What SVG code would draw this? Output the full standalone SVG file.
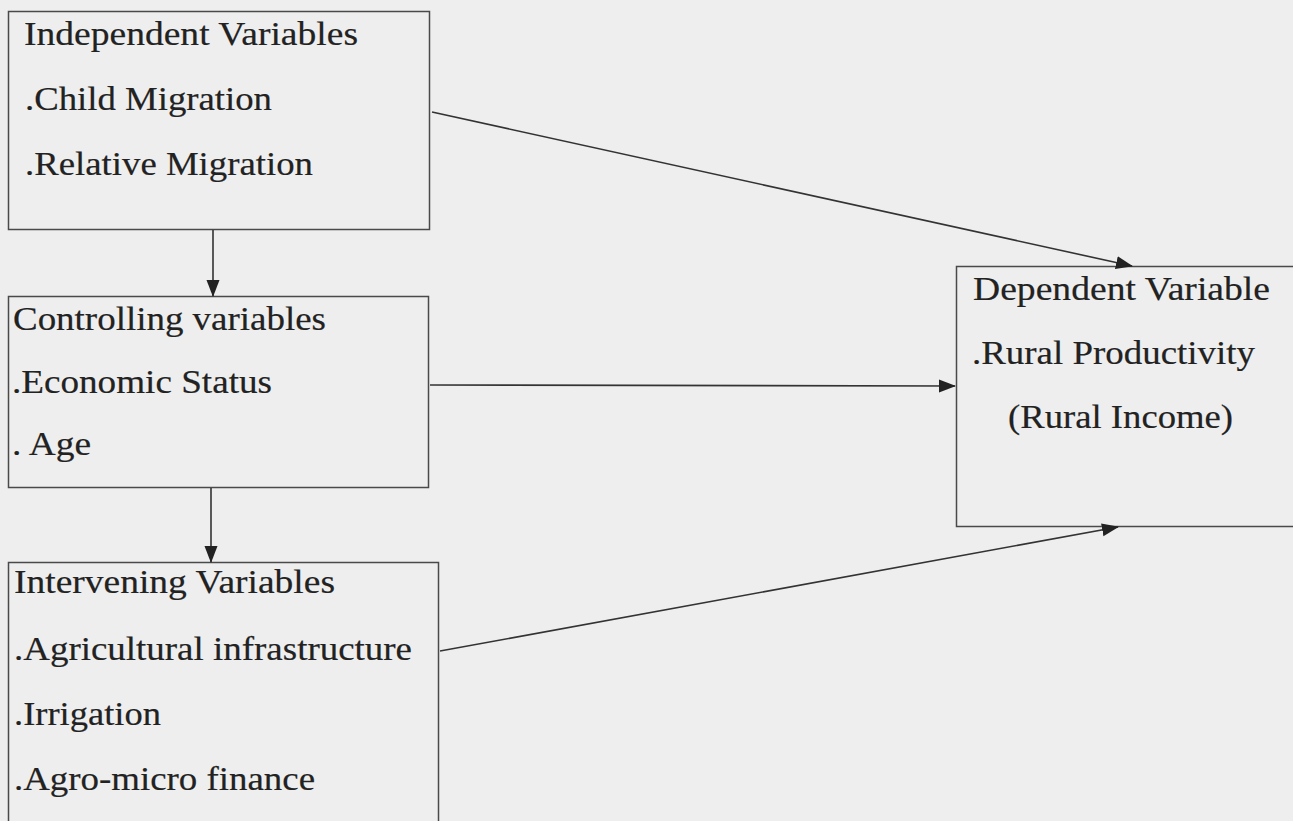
<svg xmlns="http://www.w3.org/2000/svg" width="1293" height="821" viewBox="0 0 1293 821">
<style>
.box{fill:none;stroke:#4a4a4a;stroke-width:1.5}
.t{font-family:"Liberation Serif","Times New Roman",serif;font-size:34px;fill:#222;stroke:#222;stroke-width:0.2}
.c{fill:none;stroke:#333;stroke-width:1.6}
</style>
<defs>
<marker id="ah" markerUnits="userSpaceOnUse" markerWidth="18" markerHeight="14" refX="16" refY="6.5" orient="auto">
<path d="M0,0 L17,6.5 L0,13 Z" fill="#222"/>
</marker>
</defs>
<rect x="0" y="0" width="1293" height="821" fill="#eeeeee"/>
<g id="independent">
<rect class="box" x="8.5" y="11.5" width="421" height="218"/>
<text class="t" x="24" y="45" textLength="334" lengthAdjust="spacingAndGlyphs">Independent Variables</text>
<text class="t" x="25" y="110" textLength="247" lengthAdjust="spacingAndGlyphs">.Child Migration</text>
<text class="t" x="25" y="175" textLength="288" lengthAdjust="spacingAndGlyphs">.Relative Migration</text>
</g>
<g id="controlling">
<rect class="box" x="8.5" y="296.5" width="420" height="191"/>
<text class="t" x="13" y="330" textLength="313" lengthAdjust="spacingAndGlyphs">Controlling variables</text>
<text class="t" x="12" y="393" textLength="260" lengthAdjust="spacingAndGlyphs">.Economic Status</text>
<text class="t" x="12" y="455" textLength="79" lengthAdjust="spacingAndGlyphs">. Age</text>
</g>
<g id="intervening">
<rect class="box" x="8.5" y="562.5" width="430" height="280"/>
<text class="t" x="14" y="593" textLength="321" lengthAdjust="spacingAndGlyphs">Intervening Variables</text>
<text class="t" x="14" y="660" textLength="398" lengthAdjust="spacingAndGlyphs">.Agricultural infrastructure</text>
<text class="t" x="14" y="725" textLength="147" lengthAdjust="spacingAndGlyphs">.Irrigation</text>
<text class="t" x="14" y="790" textLength="301" lengthAdjust="spacingAndGlyphs">.Agro-micro finance</text>
</g>
<g id="dependent">
<rect class="box" x="956.5" y="266.5" width="350" height="260"/>
<text class="t" x="973" y="300" textLength="297" lengthAdjust="spacingAndGlyphs">Dependent Variable</text>
<text class="t" x="972" y="364" textLength="283" lengthAdjust="spacingAndGlyphs">.Rural Productivity</text>
<text class="t" x="1008" y="428" textLength="225" lengthAdjust="spacingAndGlyphs">(Rural Income)</text>
</g>
<g id="connectors">
<line class="c" x1="213" y1="230" x2="213" y2="296" marker-end="url(#ah)"/>
<line class="c" x1="211" y1="488" x2="211" y2="562" marker-end="url(#ah)"/>
<line class="c" x1="432" y1="112" x2="1132" y2="266" marker-end="url(#ah)"/>
<line class="c" x1="430" y1="385" x2="955" y2="386" marker-end="url(#ah)"/>
<line class="c" x1="440" y1="651" x2="1118" y2="527" marker-end="url(#ah)"/>
</g>
</svg>
